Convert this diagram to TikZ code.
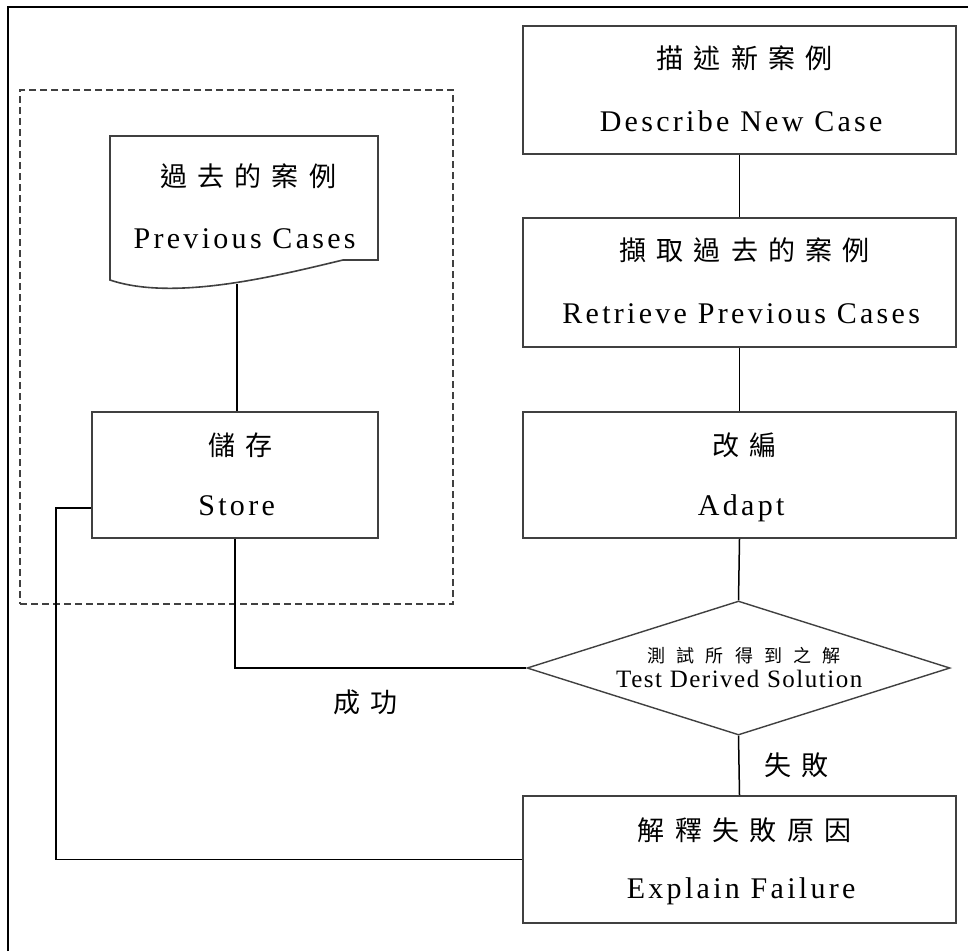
\documentclass[tikz,border=0pt]{standalone}
\usepackage{fontspec}
\usetikzlibrary{shapes.geometric,calc}
\newfontfamily\enf{Liberation Serif}[LetterSpace=11]
\newfontfamily\ens{Liberation Serif}[LetterSpace=6]
\newfontfamily\cjkf{Noto Sans CJK TC}[LetterSpace=38]
\newfontfamily\cjks{Noto Sans CJK TC}[LetterSpace=62]
\definecolor{boxgray}{gray}{0.25}
\tikzset{
  box/.style={draw=boxgray, line width=1.6pt, minimum width=433pt, minimum height=128pt, inner sep=0pt},
  zh/.style={font=\cjkf\fontsize{27}{27}\selectfont, inner sep=0pt},
  zhs/.style={font=\cjks\fontsize{18}{18}\selectfont, inner sep=0pt},
  en/.style={font=\enf\fontsize{30}{30}\selectfont, inner sep=0pt, anchor=base},
  ensm/.style={font=\ens\fontsize{25}{25}\selectfont, inner sep=0pt, anchor=base},
  conn/.style={line width=1.5pt, black},
  grp/.style={draw=boxgray, line width=1.5pt, dash pattern=on 7pt off 4pt, minimum width=433pt, minimum height=514pt, inner sep=0pt},
  frame/.style={line width=2.6pt, black}
}
\begin{document}
\begin{tikzpicture}[x=1pt,y=-1pt]
\useasboundingbox (0,0) rectangle (968,951);
\fill[white] (0,0) rectangle (968,951);
\draw[frame] (8,951) -- (8,7) -- (968,7);

% group
\node[grp] (group) at (236.5,347) {};

% previous cases (document shape)
\draw[draw=boxgray, line width=1.6pt] (110,280) .. controls (175,302) and (280,275) .. (343,260) -- (378,260) -- (378,136) -- (110,136) -- cycle;
\coordinate (pcb) at (237,284);
\node[zh] (prevz) at (243,176) {\kern0.38em 過去的案例};
\node[en] (preve) at (243,248) {\kern0.11em Previous Cases};

% store
\node[box, minimum width=286pt, minimum height=126pt] (store) at (235,475) {};
\node[zh] (storez) at (235,445) {\kern0.38em 儲存};
\node[en] (storee) at (235,515) {\kern0.11em Store};

% right column
\node[box] (desc) at (739.5,90) {};
\node[zh] (descz) at (739.5,58) {\kern0.38em 描述新案例};
\node[en] (desce) at (739.5,131) {\kern0.11em Describe New Case};

\node[box, minimum height=129pt] (retr) at (739.5,282.5) {};
\node[zh] (retrz) at (739.5,250) {\kern0.38em 擷取過去的案例};
\node[en] (retre) at (739.5,323) {\kern0.11em Retrieve Previous Cases};

\node[box, minimum height=126pt] (adapt) at (739.5,475) {};
\node[zh] (adaptz) at (739.5,445) {\kern0.38em 改編};
\node[en] (adapte) at (739.5,515) {\kern0.11em Adapt};

\node[diamond, draw=boxgray, line width=1.4pt, minimum width=423pt, minimum height=134pt, inner sep=0pt] (test) at (738.5,668) {};
\node[zhs] (testz) at (738.5,656) {\kern0.62em 測試所得到之解};
\node[ensm] (teste) at (738.5,687) {\kern0.06em Test Derived Solution};

\node[box, minimum height=127pt] (expl) at (739.5,859.5) {};
\node[zh] (explz) at (739.5,830) {\kern0.38em 解釋失敗原因};
\node[en] (exple) at (739.5,898) {\kern0.11em Explain Failure};

% labels
\node[zh] (succ) at (360,702) {\kern0.38em 成功};
\node[zh] (fail) at (791,765) {\kern0.38em 失敗};

% connectors
\draw[conn] (desc.south) -- (retr.north);
\draw[conn] (retr.south) -- (adapt.north);
\draw[conn] (adapt.south) -- (test.north);
\draw[conn] (test.south) -- (expl.north);
\draw[conn] (pcb) -- (pcb |- store.north);
\draw[conn] (store.south) |- (test.west);
\coordinate (storein) at ([yshift=-33pt]store.west);
\coordinate (bend) at (56,508);
\draw[conn] (expl.west) -| (bend) -- (storein);
\end{tikzpicture}
\end{document}
